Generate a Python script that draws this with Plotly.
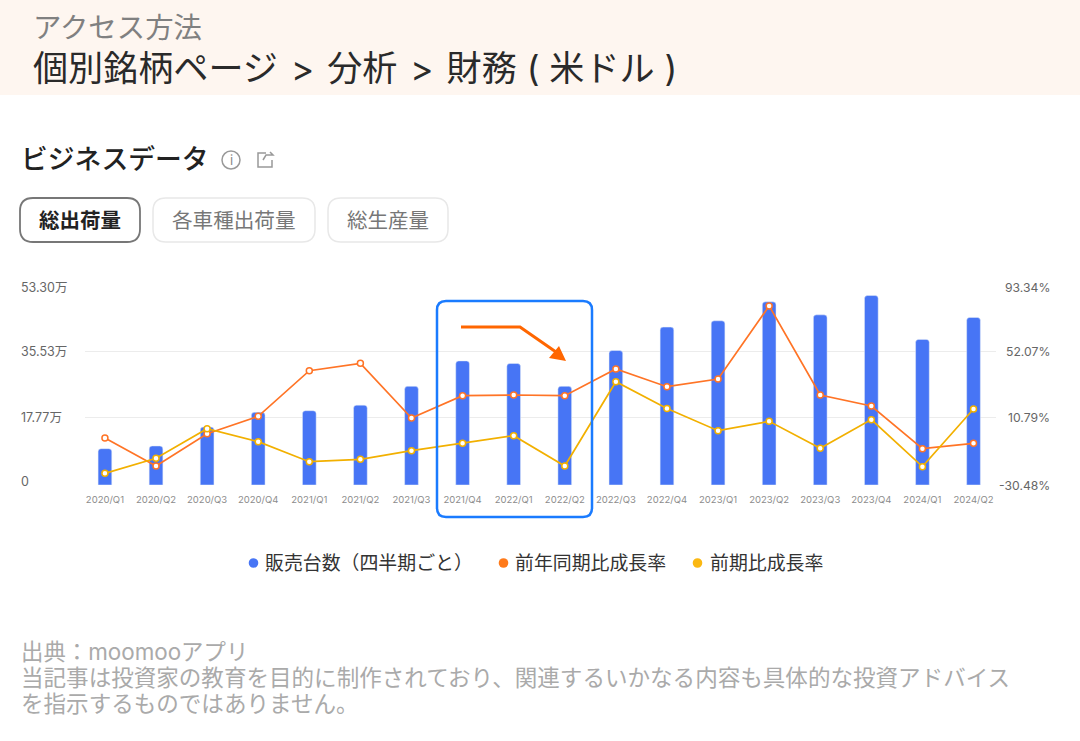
import plotly.graph_objects as go

W, H = 1080, 741
FONT = "Inter, Noto Sans CJK JP"

quarters = ["2020/Q1","2020/Q2","2020/Q3","2020/Q4","2021/Q1","2021/Q2","2021/Q3","2021/Q4","2022/Q1",
            "2022/Q2","2022/Q3","2022/Q4","2023/Q1","2023/Q2","2023/Q3","2023/Q4","2024/Q1","2024/Q2"]
units = [9.78,10.5,15.6,19.56,20.0,21.5,26.56,33.4,32.7,26.56,36.2,42.5,44.2,49.3,45.8,51.0,39.2,45.1]
yoy = [-1.09,-18.6,1.62,12.46,41.0,45.6,11.4,25.4,25.8,25.4,42.1,31.0,35.8,81.5,25.8,18.9,-7.76,-4.42]
qoq = [-23.2,-13.8,4.75,-3.38,-15.9,-14.4,-9.0,-4.42,0.37,-18.6,34.1,17.3,3.5,9.33,-7.55,10.4,-19.0,17.05]

left_ticks = [0, 18.3, 36.07, 53.3]
left_labels = ["0", "17.77万", "35.53万", "53.30万"]
right_ticks = [-30.48, 12.0, 53.3, 93.34]
right_labels = ["-30.48%", "10.79%", "52.07%", "93.34%"]
series_names = ["販売台数（四半期ごと）", "前年同期比成長率", "前期比成長率"]

BLUE, ORANGE, YELLOW = "#4775F5", "#FF7426", "#F2B000"

def px(x): return x / W
def py(y): return 1 - y / H

def rrect(x0, y0, x1, y1, r, line, width, fill="rgba(0,0,0,0)"):
    X0, X1, Y0, Y1 = px(x0), px(x1), py(y0), py(y1)
    rx, ry = r / W, r / H
    d = (f"M{X0+rx},{Y0} L{X1-rx},{Y0} Q{X1},{Y0} {X1},{Y0-ry} L{X1},{Y1+ry} Q{X1},{Y1} {X1-rx},{Y1} "
         f"L{X0+rx},{Y1} Q{X0},{Y1} {X0},{Y1+ry} L{X0},{Y0-ry} Q{X0},{Y0} {X0+rx},{Y0} Z")
    return dict(type="path", path=d, xref="paper", yref="paper", line=dict(color=line, width=width), fillcolor=fill)

def poly(points, line=None, width=0, fill=None, close=False):
    d = "M" + " L".join(f"{px(a)},{py(b)}" for a, b in points) + (" Z" if close else "")
    return dict(type="path", path=d, xref="paper", yref="paper",
                line=dict(color=line or "rgba(0,0,0,0)", width=width),
                fillcolor=fill or "rgba(0,0,0,0)")

def dot(cx, cy, r, color):
    return dict(type="circle", xref="paper", yref="paper", x0=px(cx-r), x1=px(cx+r), y0=py(cy+r), y1=py(cy-r),
                fillcolor=color, line_width=0)

def text(x, y, s, size, color, anchor="left", weight=None):
    return dict(x=px(x), y=py(y), xref="paper", yref="paper", text=s, showarrow=False, xanchor=anchor,
                yanchor="middle", align="left", borderpad=0, borderwidth=0,
                font=dict(family=FONT, size=size, color=color, weight=weight or 400))

fig = go.Figure()
fig.add_bar(x=quarters, y=units, name=series_names[0], marker=dict(color=BLUE, cornerradius=3),
            width=0.268, showlegend=False, yaxis="y")
marker_common = dict(size=6, color="white")
fig.add_scatter(x=quarters, y=yoy, name=series_names[1], mode="lines+markers", yaxis="y2", showlegend=False,
                line=dict(color=ORANGE, width=1.7), marker=dict(line=dict(color=ORANGE, width=1.5), **marker_common))
fig.add_scatter(x=quarters, y=qoq, name=series_names[2], mode="lines+markers", yaxis="y2", showlegend=False,
                line=dict(color=YELLOW, width=1.7), marker=dict(line=dict(color=YELLOW, width=1.5), **marker_common))

shapes = [
    dict(type="rect", xref="paper", yref="paper", x0=0, x1=1, y0=py(95), y1=1, fillcolor="#FEF6F0", line_width=0, layer="below"),
    rrect(20, 198, 140, 242, 13, "#777777", 1.8),
    rrect(153, 198, 315, 242, 13, "#E8E8E8", 1.5),
    rrect(328, 198, 448, 242, 13, "#E8E8E8", 1.5),
    rrect(437, 301, 592, 517, 9, "#1A7BFF", 2.5),
    poly([(461, 327), (520, 327), (556, 352)], line="#FF6600", width=3),
    poly([(566, 361), (559, 346), (549, 358)], fill="#FF6600", close=True),
    dict(type="circle", xref="paper", yref="paper", x0=px(222), x1=px(240), y0=py(169), y1=py(151),
         line=dict(color="#999999", width=1.5)),
    poly([(266, 153), (258, 153), (258, 167), (272, 167), (272, 160)], line="#999999", width=1.5),
    poly([(263, 160), (266, 155), (273, 155), (270, 152)], line="#999999", width=1.5),
    dot(253.5, 563, 4.8, BLUE),
    dot(503.5, 563, 4.8, "#FF7A1A"),
    dot(697.5, 563, 4.8, "#FBB812"),
]

GAP = "\u00a0\u200a"
ann = [
    text(33, 27, "アクセス方法", 28.4, "#808080"),
    text(33, 68, f"個別銘柄ページ{GAP}>{GAP}分析{GAP}>{GAP}財務 ( 米ドル )", 35.1, "#2A2A2A"),
    text(21, 159, "ビジネスデータ", 26.8, "#222222", weight=500),
    text(231, 160, "i", 13, "#888888", anchor="center"),
    text(80, 220, "総出荷量", 20.5, "#222222", anchor="center", weight=700),
    text(234, 220, "各車種出荷量", 20.6, "#777777", anchor="center"),
    text(388, 220, "総生産量", 20.5, "#777777", anchor="center"),
    text(21, 651, "出典：moomooアプリ", 22.4, "#AAAAAA"),
    text(21, 677, "当記事は投資家の教育を目的に制作されており、関連するいかなる内容も具体的な投資アドバイス", 22.55, "#AAAAAA"),
    text(21, 703, "を指示するものではありません。", 22.55, "#AAAAAA"),
    text(265, 563, series_names[0], 18.9, "#333333"),
    text(515, 563, series_names[1], 18.9, "#333333"),
    text(709.5, 563, series_names[2], 18.9, "#333333"),
]
for v, lab in zip(left_ticks, left_labels):
    ann.append(dict(x=px(20), xref="paper", y=v, yref="y", text=lab, showarrow=False, xanchor="left", yanchor="middle",
                    borderpad=0, yshift=0 if v else 4, font=dict(family=FONT, size=12.5, color="#666666")))
for v, lab in zip(right_ticks, right_labels):
    ann.append(dict(x=px(1050.5), xref="paper", y=v, yref="y2", text=lab, showarrow=False, xanchor="right", yanchor="middle",
                    borderpad=0, font=dict(family=FONT, size=12.2, color="#666666")))

fig.update_layout(
    width=W, height=H, margin=dict(l=0, r=0, t=0, b=0), paper_bgcolor="white", plot_bgcolor="white",
    font=dict(family=FONT), bargap=0.7, shapes=shapes, annotations=ann, showlegend=False,
    xaxis=dict(domain=[px(85), px(996)], range=[-0.39, 17.44], type="category", tickmode="array", tickvals=quarters,
               ticks="", showgrid=False, showline=False, zeroline=False, tickangle=0, ticklabelstandoff=7,
               tickfont=dict(family=FONT, size=9.5, color="#8C8C8C")),
    yaxis=dict(domain=[py(485), py(287)], range=[0, 53.3], tickvals=left_ticks, showticklabels=False, ticks="",
               gridcolor="#ECECEC", gridwidth=1, zeroline=False, showline=False),
    yaxis2=dict(overlaying="y", side="right", range=[-30.48, 93.34], tickvals=right_ticks, showticklabels=False, ticks="",
                showgrid=False, zeroline=False, showline=False),
)

fig.write_html("out.html", config=dict(displayModeBar=False), post_script="document.body.style.margin='0';")
